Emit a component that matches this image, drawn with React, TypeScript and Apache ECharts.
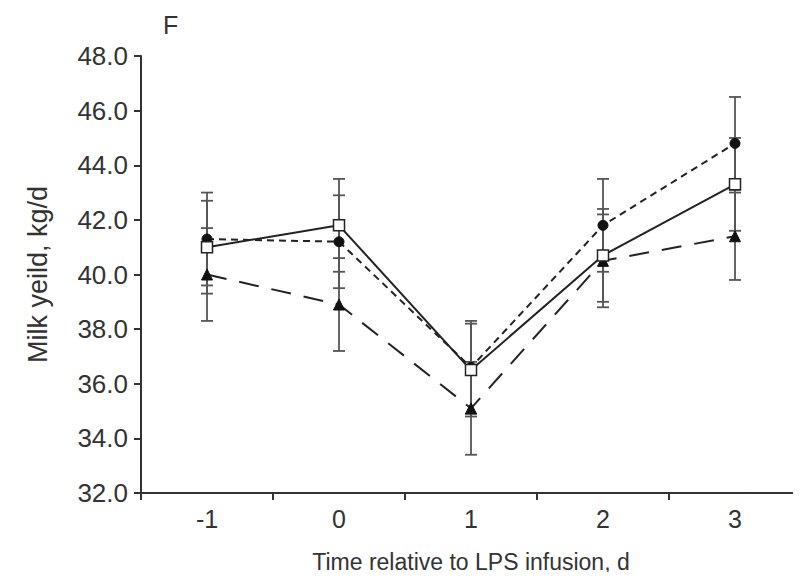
import React, { useEffect, useRef } from "react";
import * as echarts from "echarts";

const days = ["-1", "0", "1", "2", "3"];
const circleMean = [41.3, 41.2, 36.6, 41.8, 44.8];
const circleSE = [1.7, 1.7, 1.7, 1.7, 1.7];
const squareMean = [41.0, 41.8, 36.5, 40.7, 43.3];
const squareSE = [1.7, 1.7, 1.7, 1.7, 1.7];
const triangleMean = [40.0, 38.9, 35.1, 40.5, 41.4];
const triangleSE = [1.7, 1.7, 1.7, 1.7, 1.6];

const FONT = "Liberation Sans, Arial, sans-serif";

function errorSeries(mean: number[], se: number[]) {
  return {
    type: "custom",
    z: 1,
    silent: true,
    data: mean.map((m, i) => [i, m - se[i], m + se[i]]),
    renderItem: (params: any, api: any) => {
      const x = api.value(0);
      const lo = api.coord([x, api.value(1)]);
      const hi = api.coord([x, api.value(2)]);
      const hw = 6;
      const style = { stroke: "#555", lineWidth: 1.8 };
      return {
        type: "group",
        children: [
          { type: "line", shape: { x1: lo[0], y1: lo[1], x2: hi[0], y2: hi[1] }, style },
          { type: "line", shape: { x1: lo[0] - hw, y1: lo[1], x2: lo[0] + hw, y2: lo[1] }, style },
          { type: "line", shape: { x1: hi[0] - hw, y1: hi[1], x2: hi[0] + hw, y2: hi[1] }, style },
        ],
      };
    },
  };
}

export default function App() {
  const ref = useRef<HTMLDivElement>(null);
  useEffect(() => {
    if (!ref.current) return;
    const chart = echarts.init(ref.current, null, { renderer: "svg" });
    chart.setOption({
      animation: false,
      backgroundColor: "#fff",
      textStyle: { fontFamily: FONT },
      graphic: [
        {
          type: "text",
          left: 163,
          top: 12,
          style: { text: "F", fontSize: 25, fill: "#333", fontFamily: FONT },
        },
      ],
      grid: { left: 141, right: -8, top: 56, bottom: 87 },
      xAxis: {
        type: "category",
        data: days,
        boundaryGap: true,
        axisLine: { lineStyle: { color: "#333", width: 2 } },
        axisTick: { show: true, length: 7, inside: false, lineStyle: { color: "#333", width: 2 } },
        axisLabel: { fontSize: 25, color: "#333", margin: 13, fontFamily: FONT },
        name: "Time relative to LPS infusion, d",
        nameLocation: "middle",
        nameGap: 57,
        nameTextStyle: { fontSize: 23, color: "#333", fontFamily: FONT },
      },
      yAxis: {
        type: "value",
        min: 32,
        max: 48,
        interval: 2,
        splitLine: { show: false },
        axisLine: { show: true, lineStyle: { color: "#333", width: 2 } },
        axisTick: { show: true, length: 7, lineStyle: { color: "#333", width: 2 } },
        axisLabel: {
          fontSize: 26,
          color: "#333",
          margin: 13,
          fontFamily: FONT,
          formatter: (v: number) => v.toFixed(1),
        },
        name: "Milk yeild, kg/d",
        nameLocation: "middle",
        nameGap: 90,
        nameTextStyle: { fontSize: 27, color: "#333", fontFamily: FONT },
      },
      series: [
        errorSeries(circleMean, circleSE),
        errorSeries(squareMean, squareSE),
        errorSeries(triangleMean, triangleSE),
        {
          type: "line",
          z: 3,
          data: triangleMean,
          symbol: "triangle",
          symbolSize: 11,
          lineStyle: { color: "#222", width: 2, type: [20, 13] },
          itemStyle: { color: "#111", borderColor: "#111" },
        },
        {
          type: "line",
          z: 4,
          data: circleMean,
          symbol: "circle",
          symbolSize: 10,
          lineStyle: { color: "#222", width: 2, type: [7, 5] },
          itemStyle: { color: "#111", borderColor: "#111" },
        },
        {
          type: "line",
          z: 5,
          data: squareMean,
          symbol: "rect",
          symbolSize: 11,
          lineStyle: { color: "#222", width: 2, type: "solid" },
          itemStyle: { color: "#fff", borderColor: "#222", borderWidth: 1.5 },
        },
      ],
    });
    return () => chart.dispose();
  }, []);
  return <div ref={ref} style={{ width: 801, height: 580, margin: -8 }} />;
}
